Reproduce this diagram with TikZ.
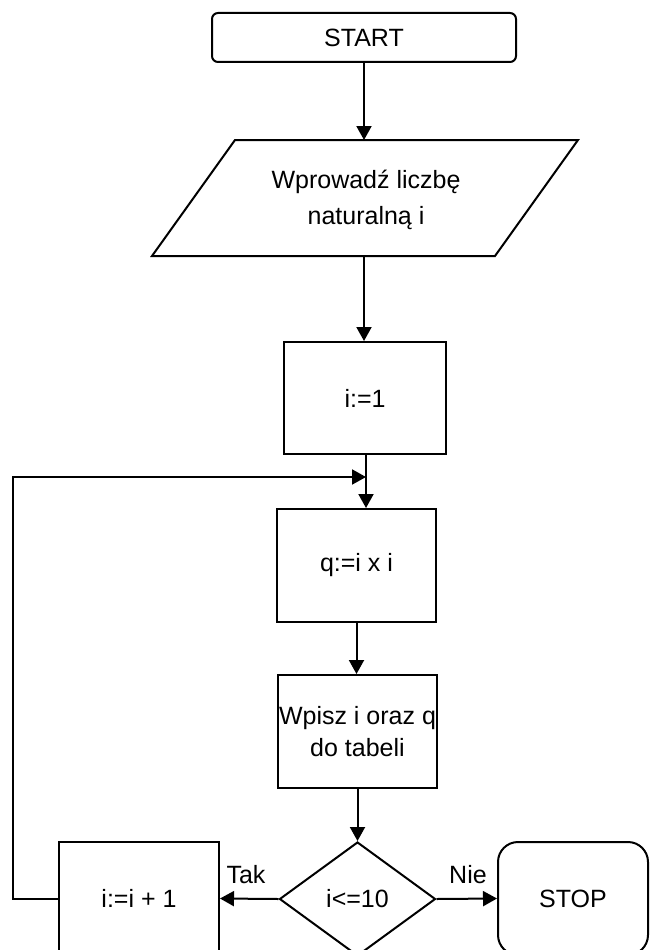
\documentclass[tikz,border=0pt]{standalone}
\usepackage{fontspec}
\setmainfont{Liberation Sans}
\usetikzlibrary{arrows.meta,shapes.geometric}
\begin{document}
\begin{tikzpicture}[x=1pt,y=-1pt,
  every node/.style={font=\fontsize{25}{30}\selectfont},
  conn/.style={line width=2pt},
  arr/.style={conn,-{Triangle[length=14pt,width=15pt]}},
  proc/.style={draw,line width=2pt,rectangle,inner sep=0pt,align=center},
  term/.style={proc,rounded corners=#1},
  dec/.style={draw,line width=2pt,diamond,inner sep=0pt}
]
\useasboundingbox (0,0) rectangle (650,950);
\fill[white] (0,0) rectangle (650,950);
\clip (0,0) rectangle (650,950);

% START
\node[term=6pt,minimum width=304pt,minimum height=49pt] (start) at (364,37.5) {START};

% input parallelogram
\draw[conn,line join=miter] (235,140) -- (578,140) -- (495,256) -- (152,256) -- cycle;
\node[align=center,font=\fontsize{25}{36}\selectfont] (input) at (366,200) {Wprowadź liczbę\\naturalną i};
\coordinate (intop) at (364,140);
\coordinate (inbot) at (364,256);

% i:=1
\node[proc,minimum width=162pt,minimum height=112pt] (i1) at (365,398) {i:=1};
\coordinate (j) at (366,477);

% q:=i x i
\node[proc,minimum width=159pt,minimum height=113pt] (q) at (356.5,565.5) {q:=i x i};

% Wpisz
\node[proc,minimum width=159pt,minimum height=113pt,font=\fontsize{25}{32}\selectfont] (w) at (357.5,731.5) {Wpisz i oraz q\\do tabeli};

% decision
\node[dec,minimum width=156pt,minimum height=114pt] (d) at (357.5,899) {i<=10};

% i:=i+1
\node[proc,minimum width=160pt,minimum height=113pt] (inc) at (139,898.5) {i:=i + 1};

% STOP
\node[term=20pt,minimum width=150pt,minimum height=113pt] (stop) at (573,898.5) {STOP};

% labels
\node (tak) at (246,875) {Tak};
\node (nie) at (468,875) {Nie};

\coordinate (loopL) at (13,898.5);

% connectors
\draw[arr] (start.south) -- (intop);
\draw[arr] (inbot) -- (inbot |- i1.north);
\draw[arr] (j |- i1.south) -- (j |- q.north);
\draw[arr] (inc.west) -- (loopL) |- (j);
\draw[arr] (q.south) -- (q.south |- w.north);
\draw[arr] (w.south) -- (d.north);
\draw[arr] (d.west) -- (inc.east);
\draw[arr] (d.east) -- (stop.west);
\end{tikzpicture}
\end{document}
